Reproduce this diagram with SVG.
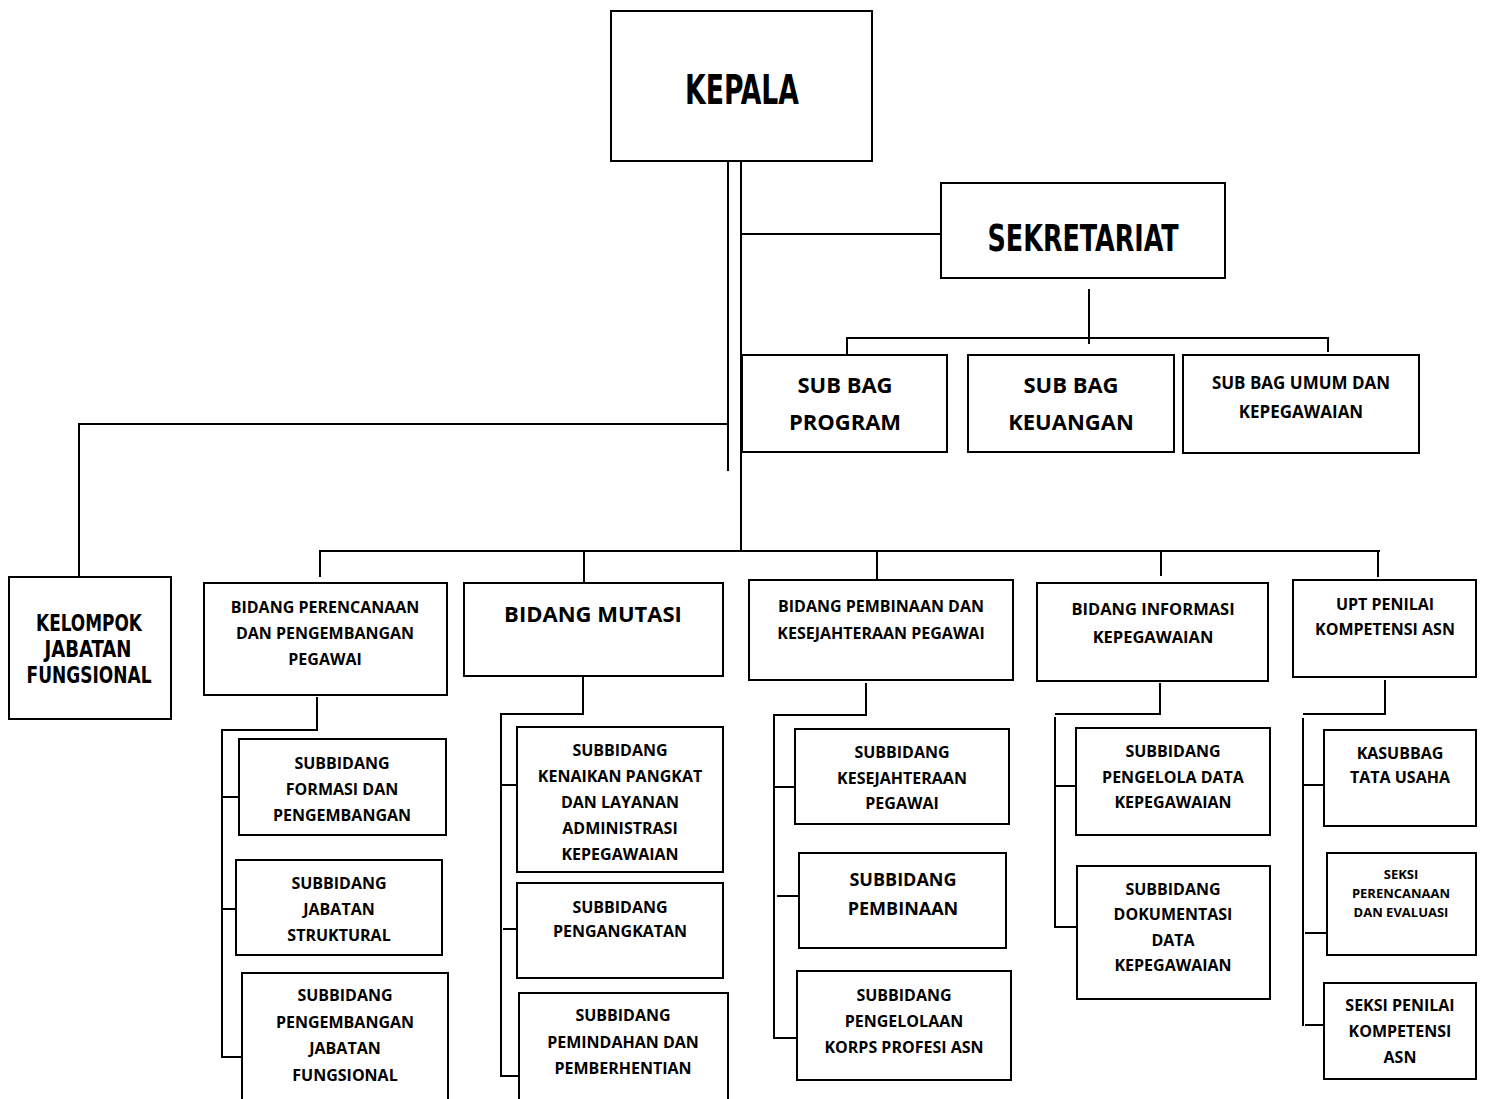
<svg xmlns="http://www.w3.org/2000/svg" width="1486" height="1099" viewBox="0 0 1486 1099">
<style>
.b{fill:#fff;stroke:#000;stroke-width:2}
.c line{stroke:#000;stroke-width:2}
text{fill:#000;text-anchor:middle;dominant-baseline:central}
.t{font-family:"Open Sans","Liberation Sans",sans-serif;font-weight:700;font-size:16px}
.h{font-family:"DejaVu Sans Condensed","DejaVu Sans",sans-serif;font-weight:700}
</style>
<rect width="1486" height="1099" fill="#fff"/>
<g id="connectors" class="c">
<line x1="728" y1="161" x2="728" y2="471"/>
<line x1="741" y1="161" x2="741" y2="552"/>
<line x1="741" y1="234" x2="941" y2="234"/>
<line x1="1089" y1="289" x2="1089" y2="344"/>
<line x1="846" y1="338" x2="1329" y2="338"/>
<line x1="847" y1="337" x2="847" y2="355"/>
<line x1="1328" y1="337" x2="1328" y2="352"/>
<line x1="79" y1="424" x2="728" y2="424"/>
<line x1="79" y1="423" x2="79" y2="577"/>
<line x1="319" y1="551" x2="1380" y2="551"/>
<line x1="320" y1="550" x2="320" y2="577"/>
<line x1="584" y1="550" x2="584" y2="583"/>
<line x1="877" y1="550" x2="877" y2="580"/>
<line x1="1161" y1="550" x2="1161" y2="576"/>
<line x1="1378" y1="550" x2="1378" y2="577"/>
<line x1="317" y1="697" x2="317" y2="731"/>
<line x1="221" y1="730" x2="318" y2="730"/>
<line x1="222" y1="730" x2="222" y2="1058"/>
<line x1="222" y1="797" x2="239" y2="797"/>
<line x1="222" y1="909" x2="236" y2="909"/>
<line x1="222" y1="1057" x2="242" y2="1057"/>
<line x1="583" y1="676" x2="583" y2="715"/>
<line x1="500" y1="714" x2="584" y2="714"/>
<line x1="501" y1="714" x2="501" y2="1077"/>
<line x1="501" y1="785" x2="517" y2="785"/>
<line x1="503" y1="929" x2="517" y2="929"/>
<line x1="501" y1="1076" x2="519" y2="1076"/>
<line x1="866" y1="683" x2="866" y2="716"/>
<line x1="773" y1="715" x2="867" y2="715"/>
<line x1="774" y1="715" x2="774" y2="1039"/>
<line x1="774" y1="787" x2="795" y2="787"/>
<line x1="777" y1="896" x2="799" y2="896"/>
<line x1="774" y1="1038" x2="797" y2="1038"/>
<line x1="1160" y1="683" x2="1160" y2="715"/>
<line x1="1055" y1="714" x2="1161" y2="714"/>
<line x1="1055" y1="717" x2="1055" y2="928"/>
<line x1="1055" y1="786" x2="1076" y2="786"/>
<line x1="1055" y1="927" x2="1077" y2="927"/>
<line x1="1385" y1="680" x2="1385" y2="715"/>
<line x1="1303" y1="714" x2="1385" y2="714"/>
<line x1="1303" y1="718" x2="1303" y2="1026"/>
<line x1="1303" y1="785" x2="1323" y2="785"/>
<line x1="1305" y1="933" x2="1326" y2="933"/>
<line x1="1305" y1="1025" x2="1323" y2="1025"/>
</g>
<g id="kepala"><rect class="b" x="611" y="11" width="261" height="150"/><text class="h" x="742" y="90" font-size="41" textLength="114" lengthAdjust="spacingAndGlyphs">KEPALA</text></g>
<g id="sekretariat"><rect class="b" x="941" y="183" width="284" height="95"/><text class="h" x="1083" y="238" font-size="38" textLength="191" lengthAdjust="spacingAndGlyphs">SEKRETARIAT</text></g>
<g id="subbag-program"><rect class="b" x="742" y="355" width="205" height="97"/><text class="t" x="845" y="384" style="font-size:22px">SUB BAG</text><text class="t" x="845" y="421" style="font-size:22px">PROGRAM</text></g>
<g id="subbag-keuangan"><rect class="b" x="968" y="355" width="206" height="97"/><text class="t" x="1071" y="384" style="font-size:22px">SUB BAG</text><text class="t" x="1071" y="421" style="font-size:22px">KEUANGAN</text></g>
<g id="subbag-umum"><rect class="b" x="1183" y="355" width="236" height="98"/><text class="t" x="1301" y="382" style="font-size:17px">SUB BAG UMUM DAN</text><text class="t" x="1301" y="411" style="font-size:17px">KEPEGAWAIAN</text></g>
<g id="kelompok"><rect class="b" x="9" y="577" width="162" height="142"/><text class="h" x="89" y="623" font-size="23" textLength="106" lengthAdjust="spacingAndGlyphs">KELOMPOK</text><text class="h" x="88" y="649" font-size="23" textLength="87" lengthAdjust="spacingAndGlyphs">JABATAN</text><text class="h" x="89" y="675" font-size="23" textLength="125" lengthAdjust="spacingAndGlyphs">FUNGSIONAL</text></g>
<g id="bidang-perencanaan"><rect class="b" x="204" y="583" width="243" height="112"/><text class="t" x="325" y="607">BIDANG PERENCANAAN</text><text class="t" x="325" y="633">DAN PENGEMBANGAN</text><text class="t" x="325" y="659">PEGAWAI</text></g>
<g id="sub-formasi"><rect class="b" x="239" y="739" width="207" height="96"/><text class="t" x="342" y="763">SUBBIDANG</text><text class="t" x="342" y="789">FORMASI DAN</text><text class="t" x="342" y="815">PENGEMBANGAN</text></g>
<g id="sub-struktural"><rect class="b" x="236" y="860" width="206" height="95"/><text class="t" x="339" y="883">SUBBIDANG</text><text class="t" x="339" y="909">JABATAN</text><text class="t" x="339" y="935">STRUKTURAL</text></g>
<g id="sub-fungsional"><rect class="b" x="242" y="973" width="206" height="140"/><text class="t" x="345" y="995">SUBBIDANG</text><text class="t" x="345" y="1022">PENGEMBANGAN</text><text class="t" x="345" y="1048">JABATAN</text><text class="t" x="345" y="1075">FUNGSIONAL</text></g>
<g id="bidang-mutasi"><rect class="b" x="464" y="583" width="259" height="93"/><text class="t" x="593" y="613" style="font-size:22px">BIDANG MUTASI</text></g>
<g id="sub-kenaikan"><rect class="b" x="517" y="727" width="206" height="145"/><text class="t" x="620" y="750">SUBBIDANG</text><text class="t" x="620" y="776">KENAIKAN PANGKAT</text><text class="t" x="620" y="802">DAN LAYANAN</text><text class="t" x="620" y="828">ADMINISTRASI</text><text class="t" x="620" y="854">KEPEGAWAIAN</text></g>
<g id="sub-pengangkatan"><rect class="b" x="517" y="883" width="206" height="95"/><text class="t" x="620" y="907">SUBBIDANG</text><text class="t" x="620" y="931">PENGANGKATAN</text></g>
<g id="sub-pemindahan"><rect class="b" x="519" y="993" width="209" height="120"/><text class="t" x="623" y="1015">SUBBIDANG</text><text class="t" x="623" y="1042">PEMINDAHAN DAN</text><text class="t" x="623" y="1068">PEMBERHENTIAN</text></g>
<g id="bidang-pembinaan"><rect class="b" x="749" y="580" width="264" height="100"/><text class="t" x="881" y="606">BIDANG PEMBINAAN DAN</text><text class="t" x="881" y="633">KESEJAHTERAAN PEGAWAI</text></g>
<g id="sub-kesejahteraan"><rect class="b" x="795" y="729" width="214" height="95"/><text class="t" x="902" y="752">SUBBIDANG</text><text class="t" x="902" y="778">KESEJAHTERAAN</text><text class="t" x="902" y="803">PEGAWAI</text></g>
<g id="sub-pembinaan"><rect class="b" x="799" y="853" width="207" height="95"/><text class="t" x="903" y="879" style="font-size:18px">SUBBIDANG</text><text class="t" x="903" y="908" style="font-size:18px">PEMBINAAN</text></g>
<g id="sub-korps"><rect class="b" x="797" y="971" width="214" height="109"/><text class="t" x="904" y="995">SUBBIDANG</text><text class="t" x="904" y="1021">PENGELOLAAN</text><text class="t" x="904" y="1047">KORPS PROFESI ASN</text></g>
<g id="bidang-informasi"><rect class="b" x="1037" y="583" width="231" height="98"/><text class="t" x="1153" y="608" style="font-size:16.5px">BIDANG INFORMASI</text><text class="t" x="1153" y="636" style="font-size:16.5px">KEPEGAWAIAN</text></g>
<g id="sub-pengelola"><rect class="b" x="1076" y="728" width="194" height="107"/><text class="t" x="1173" y="751">SUBBIDANG</text><text class="t" x="1173" y="777">PENGELOLA DATA</text><text class="t" x="1173" y="802">KEPEGAWAIAN</text></g>
<g id="sub-dokumentasi"><rect class="b" x="1077" y="866" width="193" height="133"/><text class="t" x="1173" y="889">SUBBIDANG</text><text class="t" x="1173" y="914">DOKUMENTASI</text><text class="t" x="1173" y="940">DATA</text><text class="t" x="1173" y="965">KEPEGAWAIAN</text></g>
<g id="upt"><rect class="b" x="1293" y="580" width="183" height="97"/><text class="t" x="1385" y="604">UPT PENILAI</text><text class="t" x="1385" y="629">KOMPETENSI ASN</text></g>
<g id="kasubbag"><rect class="b" x="1324" y="730" width="152" height="96"/><text class="t" x="1400" y="753">KASUBBAG</text><text class="t" x="1400" y="777">TATA USAHA</text></g>
<g id="seksi-perencanaan"><rect class="b" x="1327" y="853" width="149" height="102"/><text class="t" x="1401" y="874" style="font-size:13px">SEKSI</text><text class="t" x="1401" y="893" style="font-size:13px">PERENCANAAN</text><text class="t" x="1401" y="912" style="font-size:13px">DAN EVALUASI</text></g>
<g id="seksi-penilai"><rect class="b" x="1324" y="983" width="152" height="96"/><text class="t" x="1400" y="1005">SEKSI PENILAI</text><text class="t" x="1400" y="1031">KOMPETENSI</text><text class="t" x="1400" y="1057">ASN</text></g>
</svg>
